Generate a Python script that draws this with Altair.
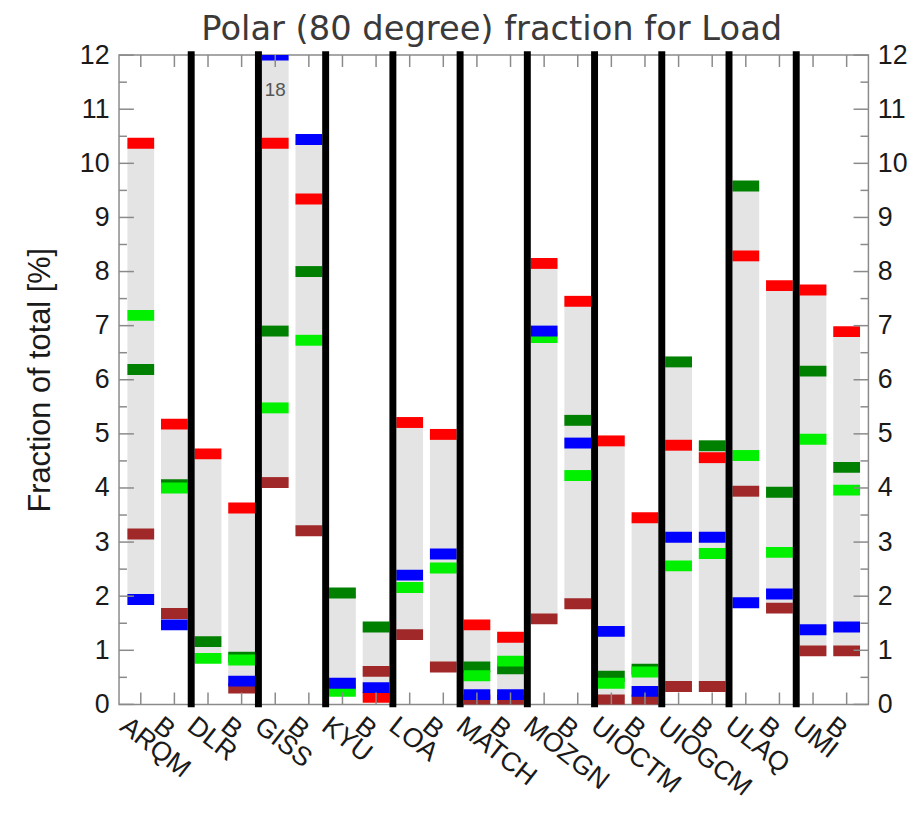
import json
import altair as alt
import pandas as pd

models = ["ARQM", "DLR", "GISS", "KYU", "LOA", "MATCH", "MOZGN",
          "UIOCTM", "UIOGCM", "ULAQ", "UMI"]
slot_labels = []
for m in models:
    slot_labels += [m, "B"]

title_text = "Polar (80 degree) fraction for Load"

# one value per slot (model, model B, ...); None = not shown
red = [10.37, 5.18, 4.63, 3.63, 10.37, 9.34, None, 0.13, 5.21, 4.99, 1.47,
       1.24, 8.15, 7.45, 4.87, 3.45, 4.79, 4.56, 8.29, 7.74, 7.66, 6.89]
lightgreen = [7.19, 4.00, 0.85, 0.82, 5.48, 6.73, 0.24, None, 2.16, 2.52, 0.53,
              0.80, 6.78, 4.23, 0.39, 0.60, 2.56, 2.79, 4.60, 2.81, 4.90, 3.96]
darkgreen = [6.19, 4.06, 1.16, 0.87, 6.90, 8.00, 2.06, 1.43, None, None, 0.69,
             0.66, None, 5.25, 0.52, 0.65, 6.33, 4.78, 9.58, 3.92, 6.16, 4.38]
brown = [3.15, 1.68, None, 0.30, 4.10, 3.21, None, 0.61, 1.29, 0.69, 0.08,
         0.08, 1.58, 1.86, 0.08, 0.08, 0.33, 0.33, 3.94, 1.78, 0.99, 0.99]
blue = [1.94, 1.47, None, 0.43, 18.0, 10.44, 0.39, 0.31, 2.39, 2.78, 0.18,
        0.18, 6.90, 4.83, 1.35, 0.24, 3.09, 3.09, 1.88, 2.04, 1.38, 1.43]

series = {"darkgreen": darkgreen, "lightgreen": lightgreen, "brown": brown,
          "red": red, "blue": blue}
series_colors = {"darkgreen": "#008000", "lightgreen": "#00f000",
                 "brown": "#a02828", "red": "#ff0000", "blue": "#0000ff"}

Y_MAX = 12
W, H = 756, 655

rows = []
for name, vals in series.items():
    for i, v in enumerate(vals):
        if v is not None:
            rows.append({"slot": i, "value": v, "series": name})
markers = pd.DataFrame(rows)
ranges = markers.groupby("slot")["value"].agg(lo="min", hi="max").reset_index()
over = markers[markers["value"] > Y_MAX].copy()
over["label"] = over["value"].map(lambda v: f"{v:g}")

seps = pd.DataFrame({"slot": [2 * i + 1.5 for i in range(len(models) - 1)]})
slots = pd.DataFrame({"slot": list(range(len(slot_labels)))})
major = pd.DataFrame({"yv": list(range(0, Y_MAX + 1))})
minor = pd.DataFrame({"yv": [k + 0.5 for k in range(0, Y_MAX)]})
titles = pd.DataFrame({"t": [title_text]})

xscale = alt.Scale(domain=[-0.5, len(slot_labels) - 0.5], nice=False, zero=False)
yscale = alt.Scale(domain=[0, Y_MAX], nice=False, clamp=True)

x_axis = alt.Axis(values=list(range(len(slot_labels))),
                  labelExpr=json.dumps(slot_labels) + "[datum.value]",
                  labelAngle=38, labelAlign="left", labelBaseline="top",
                  labelFontSize=27, labelPadding=8, labelOffset=-10,
                  labelOverlap=False, labelBound=False, labelFlush=False,
                  ticks=False, domain=False, grid=False, title="")
x_enc = alt.X("slot:Q", scale=xscale, axis=x_axis)

left_axis = alt.Axis(values=list(range(0, Y_MAX + 1)), orient="left",
                     labelFontSize=27, labelPadding=10, ticks=False,
                     labelOverlap=False, labelFlush=False,
                     domain=False, grid=False, title="Fraction of total [%]",
                     titleFontSize=31, titleFontWeight="normal",
                     titlePadding=23)
right_axis = alt.Axis(values=list(range(0, Y_MAX + 1)), orient="right",
                      labelFontSize=27, labelPadding=9, ticks=False,
                      labelOverlap=False, labelFlush=False,
                      domain=False, grid=False, title="")

AX = "#8a8a8a"

bars = alt.Chart(ranges).mark_bar(width=27, color="#e4e4e4").encode(
    x=x_enc,
    y=alt.Y("lo:Q", scale=yscale, axis=left_axis),
    y2="hi:Q",
)

ticks = alt.Chart(markers).mark_tick(
    orient="horizontal", thickness=11, size=27, opacity=1, clip=True
).encode(
    x=x_enc,
    y=alt.Y("value:Q", scale=yscale, axis=None),
    color=alt.Color("series:N", legend=None,
                    scale=alt.Scale(domain=list(series_colors.keys()),
                                    range=list(series_colors.values()))),
)

over_text = alt.Chart(over).mark_text(
    fontSize=19, font="Liberation Sans", color="#555555", baseline="middle"
).encode(x=x_enc, y=alt.value(35), text="label:N")

separators = alt.Chart(seps).mark_rule(color="black", strokeWidth=7).encode(
    x=x_enc, y=alt.value(-4), y2=alt.value(H + 3)
)

top_ticks = alt.Chart(slots).mark_rule(color=AX, strokeWidth=1.5).encode(
    x=x_enc, y=alt.value(0), y2=alt.value(12)
)
bot_ticks = alt.Chart(slots).mark_rule(color=AX, strokeWidth=1.5).encode(
    x=x_enc, y=alt.value(H - 12), y2=alt.value(H)
)
left_major = alt.Chart(major).mark_rule(color=AX, strokeWidth=1.5).encode(
    y=alt.Y("yv:Q", scale=yscale, axis=None), x=alt.value(0), x2=alt.value(15)
)
left_minor = alt.Chart(minor).mark_rule(color=AX, strokeWidth=1.5).encode(
    y=alt.Y("yv:Q", scale=yscale, axis=None), x=alt.value(0), x2=alt.value(8)
)
right_major = alt.Chart(major).mark_rule(color=AX, strokeWidth=1.5).encode(
    y=alt.Y("yv:Q", scale=yscale, axis=right_axis), x=alt.value(W - 15), x2=alt.value(W)
)
right_minor = alt.Chart(minor).mark_rule(color=AX, strokeWidth=1.5).encode(
    y=alt.Y("yv:Q", scale=yscale, axis=None), x=alt.value(W - 8), x2=alt.value(W)
)

title_mark = alt.Chart(titles).mark_text(
    font="DejaVu Sans", fontSize=34, color="#3a3a3a",
    align="center", baseline="alphabetic"
).encode(text="t:N", x=alt.value(W / 2 - 2), y=alt.value(-15))

chart = alt.layer(
    bars, ticks, over_text, top_ticks, bot_ticks,
    left_major, left_minor, right_major, right_minor, separators, title_mark,
).resolve_axis(y="independent").properties(
    width=W, height=H,
    autosize="none",
    padding={"left": 112, "top": 44, "right": 48, "bottom": 103},
).configure_view(
    stroke=AX, strokeWidth=1.5
).configure_axis(
    labelFont="Liberation Sans", titleFont="Liberation Sans",
    labelColor="#1a1a1a", titleColor="#1a1a1a",
)

chart.save("out.html", embed_options={"renderer": "svg", "actions": False})
